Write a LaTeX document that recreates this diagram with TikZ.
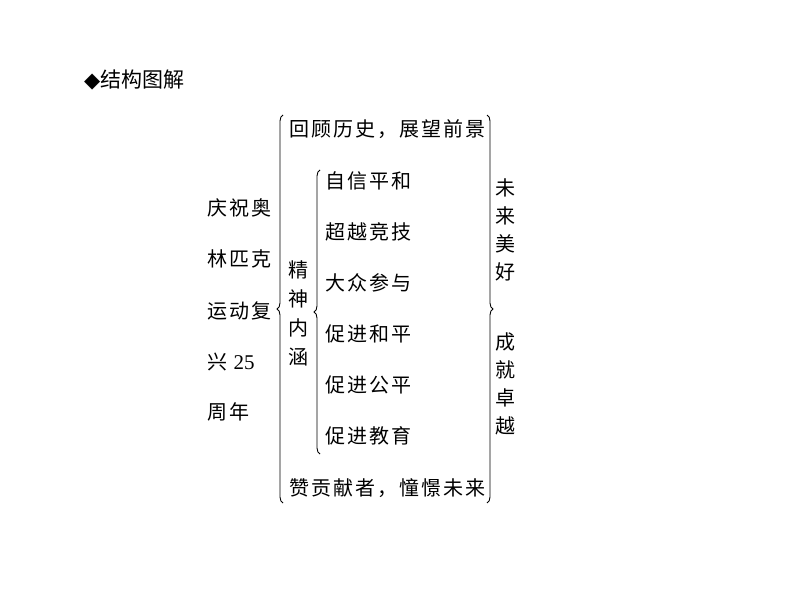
\documentclass[tikz,border=0pt]{standalone}
\usepackage{fontspec}
\setmainfont{Liberation Serif}
\newfontfamily\cjk{Noto Sans CJK SC}
\newfontfamily\cjksp[LetterSpace=10]{Noto Sans CJK SC}
\newfontfamily\symf{DejaVu Sans}
\usetikzlibrary{decorations.pathreplacing}
\begin{document}
\begin{tikzpicture}[x=1pt,y=-1pt,
  txt/.style={font=\cjksp\fontsize{20}{20}\selectfont, inner sep=0pt, anchor=west},
  vtxt/.style={font=\cjk\fontsize{20}{29}\selectfont, inner sep=0pt, align=center},
  bracestyle/.style={draw, line width=0.9pt, decorate, decoration={brace, amplitude=6pt, aspect=0.5}}]
\useasboundingbox[fill=white] (0,0) rectangle (794,596);
% title
\node[font=\cjk\fontsize{21}{21}\selectfont, inner sep=0pt, anchor=west] (title) at (84,80) {{\symf\fontsize{21}{21}\selectfont ◆}结构图解};
% left column
\node[txt] (l1) at (207,208) {庆祝奥};
\node[txt] (l2) at (207,259) {林匹克};
\node[txt] (l3) at (207,311) {运动复};
\node[txt] (l4) at (207,362) {兴 {\fontspec{Liberation Serif}\fontsize{21}{21}\selectfont 25}};
\node[txt] (l5) at (207,412) {周年};
% outer braces
\coordinate (lbB) at (283,503);
\coordinate (lbT) at (283,115);
\draw[bracestyle] (lbB) -- (lbT);
\coordinate (rbT) at (487,115);
\coordinate (rbB) at (487,503);
\draw[bracestyle] (rbT) -- (rbB);
% top and bottom
\node[txt] (top) at (289,129) {回顾历史，展望前景};
\node[txt] (bot) at (289,488) {赞贡献者，憧憬未来};
% spirit
\node[vtxt] (sp) at (298,313) {精\\神\\内\\涵};
\coordinate (ibB) at (320,454);
\coordinate (ibT) at (320,170);
\draw[bracestyle] (ibB) -- (ibT);
\node[txt] (i1) at (325,181) {自信平和};
\node[txt] (i2) at (325,232) {超越竞技};
\node[txt] (i3) at (325,283) {大众参与};
\node[txt] (i4) at (325,334) {促进和平};
\node[txt] (i5) at (325,385) {促进公平};
\node[txt] (i6) at (325,436) {促进教育};
% right
\node[vtxt, font=\cjk\fontsize{20}{28}\selectfont] (r1) at (505,230) {未\\来\\美\\好};
\node[vtxt, font=\cjk\fontsize{20}{28}\selectfont] (r2) at (505,384) {成\\就\\卓\\越};
\end{tikzpicture}
\end{document}
